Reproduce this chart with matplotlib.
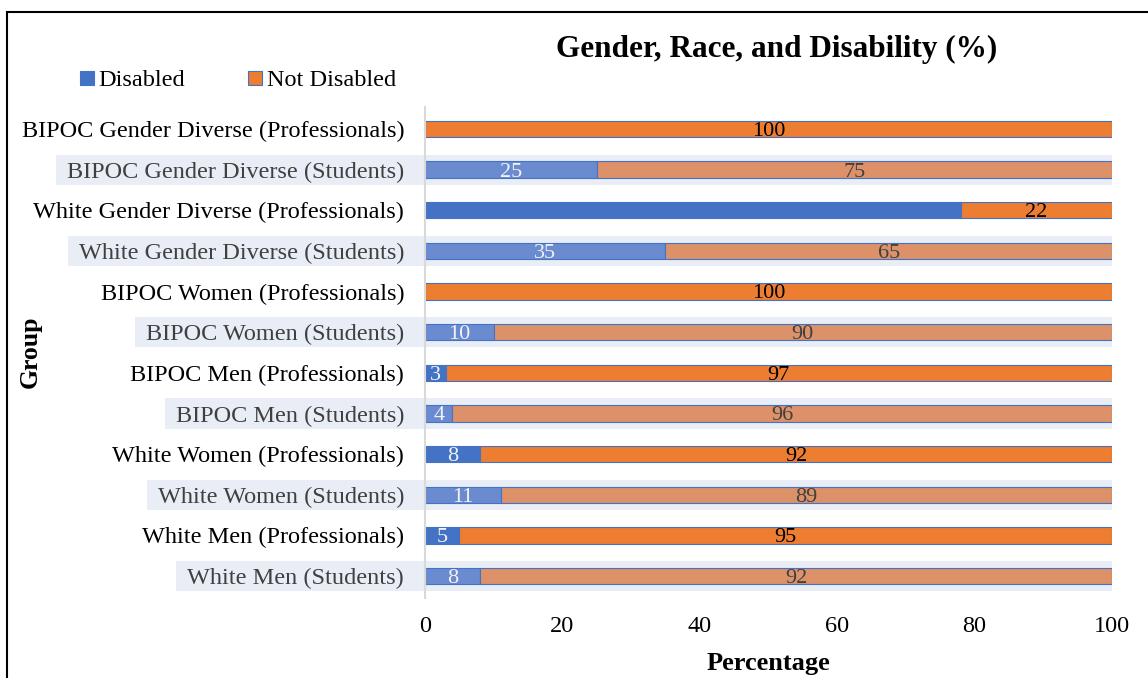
import matplotlib
matplotlib.use("Agg")
import matplotlib.pyplot as plt
from matplotlib.patches import Rectangle

plt.rcParams['font.family'] = ['Liberation Serif', 'DejaVu Serif']

# bottom to top, as drawn
groups = [
    "White Men (Students)",
    "White Men (Professionals)",
    "White Women (Students)",
    "White Women (Professionals)",
    "BIPOC Men (Students)",
    "BIPOC Men (Professionals)",
    "BIPOC Women (Students)",
    "BIPOC Women (Professionals)",
    "White Gender Diverse (Students)",
    "White Gender Diverse (Professionals)",
    "BIPOC Gender Diverse (Students)",
    "BIPOC Gender Diverse (Professionals)",
]
disabled = [8, 5, 11, 8, 4, 3, 10, 0, 35, 78, 25, 0]
not_disabled = [92, 95, 89, 92, 96, 97, 90, 100, 65, 22, 75, 100]
# the source chart prints no label on the 78 segment
show_disabled_label = [True] * 9 + [False, True, True]
x_ticks = [0, 20, 40, 60, 80, 100]

blue, blue_light = '#4472C4', '#6A8BD0'
orange, orange_light = '#ED7D31', '#DC9168'
band = '#E8EDF6'

fig = plt.figure(figsize=(11.48, 6.78), dpi=100)
ax = fig.add_axes([425 / 1148, 1 - 598 / 678, (1112 - 425) / 1148, (598 - 107) / 678])

ys = list(range(len(groups)))
students = ['Students' in g for g in groups]

for y, st in zip(ys, students):
    if st:
        ax.add_patch(Rectangle((0, y - 0.37), 100, 0.74, color=band, zorder=0, lw=0))

c_dis = [blue_light if s else blue for s in students]
c_not = [orange_light if s else orange for s in students]
b1 = ax.barh(ys, disabled, height=0.4, color=c_dis, edgecolor=blue, linewidth=0.8, zorder=2)
b2 = ax.barh(ys, not_disabled, left=disabled, height=0.4, color=c_not, edgecolor=blue,
             linewidth=0.8, zorder=2)

for y, d, n, st, show in zip(ys, disabled, not_disabled, students, show_disabled_label):
    if d > 0 and show:
        ax.text(d / 2, y - 0.06, str(d), ha='center', va='center', fontsize=16,
                color='#F2F2F2', zorder=3)
    if n > 0:
        ax.text(d + n / 2, y - 0.06, str(n), ha='center', va='center', fontsize=16,
                color='#404040' if st else 'black', zorder=3)

ax.set_xlim(0, 100)
ax.set_ylim(-0.54, len(groups) - 0.46)
ax.set_xticks(x_ticks)
ax.set_xticklabels([str(t) for t in x_ticks], fontsize=17.5)
ax.set_yticks(ys)
ax.set_yticklabels(groups, fontsize=17.5)
ax.tick_params(length=0, pad=15, axis='y')
ax.tick_params(length=0, pad=13, axis='x')
for lbl, st in zip(ax.get_yticklabels(), students):
    lbl.set_color('#404040' if st else 'black')
for s in ['top', 'right', 'bottom']:
    ax.spines[s].set_visible(False)
ax.spines['left'].set_color('#D9D9D9')
ax.spines['left'].set_linewidth(1.5)
ax.spines['left'].set_zorder(4)

ax.set_xlabel('Percentage', fontsize=19, fontweight='bold', labelpad=11)
fig.text(30 / 1148, 1 - 352 / 678, 'Group', rotation=90, ha='center', va='center',
         fontsize=18.5, fontweight='bold')
fig.text(777 / 1148, 1 - 49 / 678, 'Gender, Race, and Disability (%)', ha='center',
         va='center', fontsize=22.5, fontweight='bold')

fig.legend([b1[1], b2[1]], ['Disabled', 'Not Disabled'], loc='center',
           bbox_to_anchor=(238 / 1148, 1 - 81 / 678), ncol=2, frameon=False,
           fontsize=17.5, handlelength=0.55, handleheight=0.55, handletextpad=0.2,
           columnspacing=2.6)

# extend the student bands behind their tick labels
fig.canvas.draw()
renderer = fig.canvas.get_renderer()
inv = ax.transData.inverted()
for lbl, y, st in zip(ax.get_yticklabels(), ys, students):
    if st:
        bb = lbl.get_window_extent(renderer)
        x0 = inv.transform((bb.x0 - 11, 0))[0]
        ax.add_patch(Rectangle((x0, y - 0.37), -x0, 0.74, color=band, zorder=0, lw=0,
                               clip_on=False))

# outer frame
fig.add_artist(Rectangle((7 / 1148, -0.05), 1.2, 1 - 12 / 678 + 0.05, fill=False,
                         edgecolor='black', lw=1.5, transform=fig.transFigure))

fig.savefig('out.png', dpi=100)
